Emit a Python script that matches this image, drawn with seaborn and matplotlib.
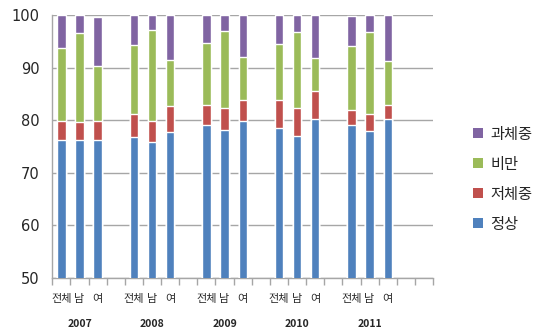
import numpy as np
import pandas as pd
import matplotlib
matplotlib.use("Agg")
import matplotlib.pyplot as plt
from matplotlib.patches import Patch
import seaborn as sns

# data (percent, stacked bottom -> top)
years = ["2007", "2008", "2009", "2010", "2011"]
groups = ["전체", "남", "여"]
categories = ["정상", "저체중", "비만", "과체중"]
colors = {"정상": "#4F81BD", "저체중": "#C0504D", "비만": "#9BBB59", "과체중": "#8064A2"}

normal =      [76.3, 76.2, 76.3, 76.8, 75.9, 77.8, 79.0, 78.2, 79.9, 78.4, 76.9, 80.2, 79.0, 77.9, 80.3]
underweight = [3.5, 3.5, 3.5, 4.3, 3.9, 4.9, 3.9, 4.1, 3.9, 5.4, 5.4, 5.3, 3.0, 3.3, 2.6]
obese =       [14.0, 16.9, 10.5, 13.2, 17.3, 8.7, 11.8, 14.6, 8.2, 10.7, 14.4, 6.4, 12.1, 15.5, 8.4]
overweight =  [6.2, 3.4, 9.4, 5.7, 2.9, 8.6, 5.3, 3.1, 8.0, 5.5, 3.3, 8.1, 5.7, 3.3, 8.7]

sns.set_theme(style="white")
plt.rcParams["font.family"] = ["Noto Sans CJK KR", "DejaVu Sans"]

# slot names: 3 bars per year + one empty slot, plus one extra empty slot at the end
order = []
labels = []
for i, y in enumerate(years):
    for g in groups:
        order.append(y + " " + g)
        labels.append(g)
    order.append("_gap%d" % i)
    labels.append("")
order.append("_gap_end")
labels.append("")

names = [y + " " + g for y in years for g in groups]
df = pd.DataFrame({"slot": names, "정상": normal, "저체중": underweight,
                   "비만": obese, "과체중": overweight})
cum = df[categories].cumsum(axis=1)
cum["slot"] = df["slot"]

fig = plt.figure(figsize=(5.42, 3.31), dpi=100)
ax = fig.add_axes([0.0965, 0.161, 0.7025, 0.7937])

for cat in reversed(categories):
    sns.barplot(data=cum, x="slot", y=cat, order=order, color=colors[cat],
                saturation=1, width=0.46, errorbar=None, ax=ax, zorder=3)

ax.set_ylim(50, 100)
ax.set_xlim(-0.5, len(order) - 0.5)
ax.set_yticks([50, 60, 70, 80, 90, 100])
ax.set_yticklabels(["50", "60", "70", "80", "90", "100"], family="DejaVu Sans", fontsize=10.5)
ax.set_xlabel("")
ax.set_ylabel("")
ax.yaxis.grid(True, color="#A6A6A6", linewidth=1, zorder=0)
ax.set_axisbelow(True)

for s in ["top", "right"]:
    ax.spines[s].set_visible(False)
for s in ["left", "bottom"]:
    ax.spines[s].set_color("#A6A6A6")
    ax.spines[s].set_linewidth(1)

ax.set_xticks(range(len(order)))
ax.set_xticklabels(labels, fontsize=8)
ax.set_xticks(np.arange(-0.5, len(order)), minor=True)
ax.tick_params(axis="x", which="major", length=0, pad=12)
ax.tick_params(axis="x", which="minor", length=5, color="#A6A6A6", width=1, direction="out")
ax.tick_params(axis="y", length=5, color="#A6A6A6", width=1, direction="out", pad=4)
ax.tick_params(axis="x", which="both", bottom=True)

for i, y in enumerate(years):
    ax.text(i * 4 + 1, -0.175, y, transform=ax.get_xaxis_transform(),
            ha="center", va="center", fontsize=7.5, fontweight="bold")

handles = [Patch(facecolor=colors[c], edgecolor="none", label=c) for c in reversed(categories)]
ax.legend(handles=handles, loc="center left", bbox_to_anchor=(1.07, 0.375), frameon=False,
          fontsize=11, handlelength=0.6, handleheight=0.6, handletextpad=0.5, labelspacing=0.85)

fig.savefig("out.png", dpi=100)
